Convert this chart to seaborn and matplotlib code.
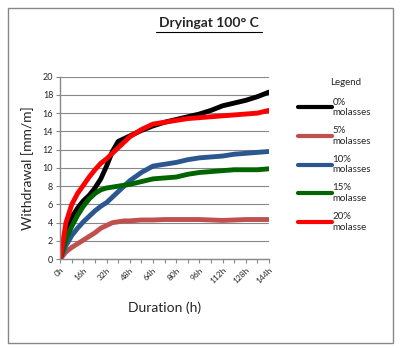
import numpy as np
import pandas as pd
import matplotlib
matplotlib.use('Agg')
import matplotlib.pyplot as plt
import seaborn as sns
from matplotlib.patches import Rectangle

hours = [0, 4, 8, 12, 16, 20, 24, 28, 32, 36, 40, 44, 48, 56, 64, 72, 80, 88, 96, 104, 112, 120, 128, 136, 144]

mol_0 = [0, 2.8, 4.6, 5.6, 6.4, 7.0, 7.8, 8.8, 10.2, 11.8, 12.9, 13.2, 13.5, 14.1, 14.6, 15.0, 15.3, 15.6, 15.9, 16.3, 16.8, 17.1, 17.4, 17.8, 18.3]
mol_5 = [0, 0.8, 1.3, 1.7, 2.1, 2.5, 2.9, 3.4, 3.7, 4.0, 4.1, 4.2, 4.2, 4.3, 4.3, 4.35, 4.35, 4.35, 4.35, 4.3, 4.25, 4.3, 4.35, 4.35, 4.35]
mol_10 = [0, 1.5, 2.6, 3.4, 4.1, 4.7, 5.3, 5.8, 6.2, 6.8, 7.4, 8.0, 8.6, 9.5, 10.2, 10.4, 10.6, 10.9, 11.1, 11.2, 11.3, 11.5, 11.6, 11.7, 11.8]
mol_15 = [0, 2.2, 3.6, 4.8, 5.8, 6.6, 7.2, 7.6, 7.8, 7.9, 8.0, 8.1, 8.2, 8.5, 8.8, 8.9, 9.0, 9.3, 9.5, 9.6, 9.7, 9.8, 9.8, 9.8, 9.9]
mol_20 = [0, 4.0, 6.0, 7.2, 8.1, 9.0, 9.8, 10.5, 11.0, 11.6, 12.2, 12.8, 13.4, 14.2, 14.8, 15.0, 15.2, 15.4, 15.5, 15.6, 15.7, 15.8, 15.9, 16.0, 16.3]

series_names = ['0%\nmolasses', '5%\nmolasses', '10%\nmolasses', '15%\nmolasse', '20%\nmolasse']
colors = ['#000000', '#c0504d', '#2b5790', '#006400', '#ff0000']
tick_hours = [0, 16, 32, 48, 64, 80, 96, 112, 128, 144]
tick_labels = ['0h', '16h', '32h', '48h', '64h', '80h', '96h', '112h', '128h', '144h']

frames = []
for name, vals in zip(series_names, [mol_0, mol_5, mol_10, mol_15, mol_20]):
    frames.append(pd.DataFrame({'hour': hours, 'value': vals, 'series': name}))
df = pd.concat(frames, ignore_index=True)

sns.set_style('white')
plt.rcParams['font.family'] = ['Lato', 'DejaVu Sans']

fig = plt.figure(figsize=(4.01, 3.48), dpi=100)
ax = fig.add_axes([0.150, 0.255, 0.521, 0.525])

sns.lineplot(data=df, x='hour', y='value', hue='series', palette=colors,
             linewidth=3.5, ax=ax, sort=False, legend=True)

ax.set_xlim(0, 144)
ax.set_ylim(0, 20)
ax.set_yticks(range(0, 21, 2))
ax.set_xticks(tick_hours)
ax.set_xticks(range(0, 145, 8), minor=True)
ax.set_xticklabels(tick_labels, rotation=45, ha='right', rotation_mode='anchor', fontsize=6)
ax.tick_params(axis='y', labelsize=6.5, length=3, width=0.8, color='#888888', left=True, pad=2)
ax.tick_params(axis='x', which='both', length=3, width=0.8, color='#888888', bottom=True, pad=2)
ax.grid(axis='y', color='#888888', linewidth=0.8)
ax.set_axisbelow(True)
for side in ['top', 'right']:
    ax.spines[side].set_visible(False)
for side in ['left', 'bottom']:
    ax.spines[side].set_color('#888888')
    ax.spines[side].set_linewidth(1.0)

ax.set_xlabel('Duration (h)', fontsize=10, labelpad=12)
ax.set_ylabel('Withdrawal [mm/m]', fontsize=10, labelpad=6)

handles, labels = ax.get_legend_handles_labels()
leg = ax.legend(handles, labels, frameon=False, fontsize=7,
                loc='upper left', bbox_to_anchor=(1.139, 0.885),
                handlelength=3.5, handletextpad=0.05, labelspacing=0.95,
                borderaxespad=0, borderpad=0)
for line in leg.get_lines():
    line.set_linewidth(3)
fig.text(0.823, 0.763, 'Legend', ha='left', va='center', fontsize=7)

fig.text(0.52, 0.934, 'Dryingat 100° C', ha='center', va='center',
         fontsize=10, fontweight='bold')
fig.add_artist(plt.Line2D([0.388, 0.654], [0.907, 0.907], color='black', linewidth=0.8,
                          transform=fig.transFigure))
fig.patches.append(Rectangle((8 / 401, 1 - 343 / 348), 385 / 401, 335 / 348,
                             transform=fig.transFigure, fill=False,
                             edgecolor='#888888', linewidth=1.0))

fig.savefig('out.png', dpi=100)
